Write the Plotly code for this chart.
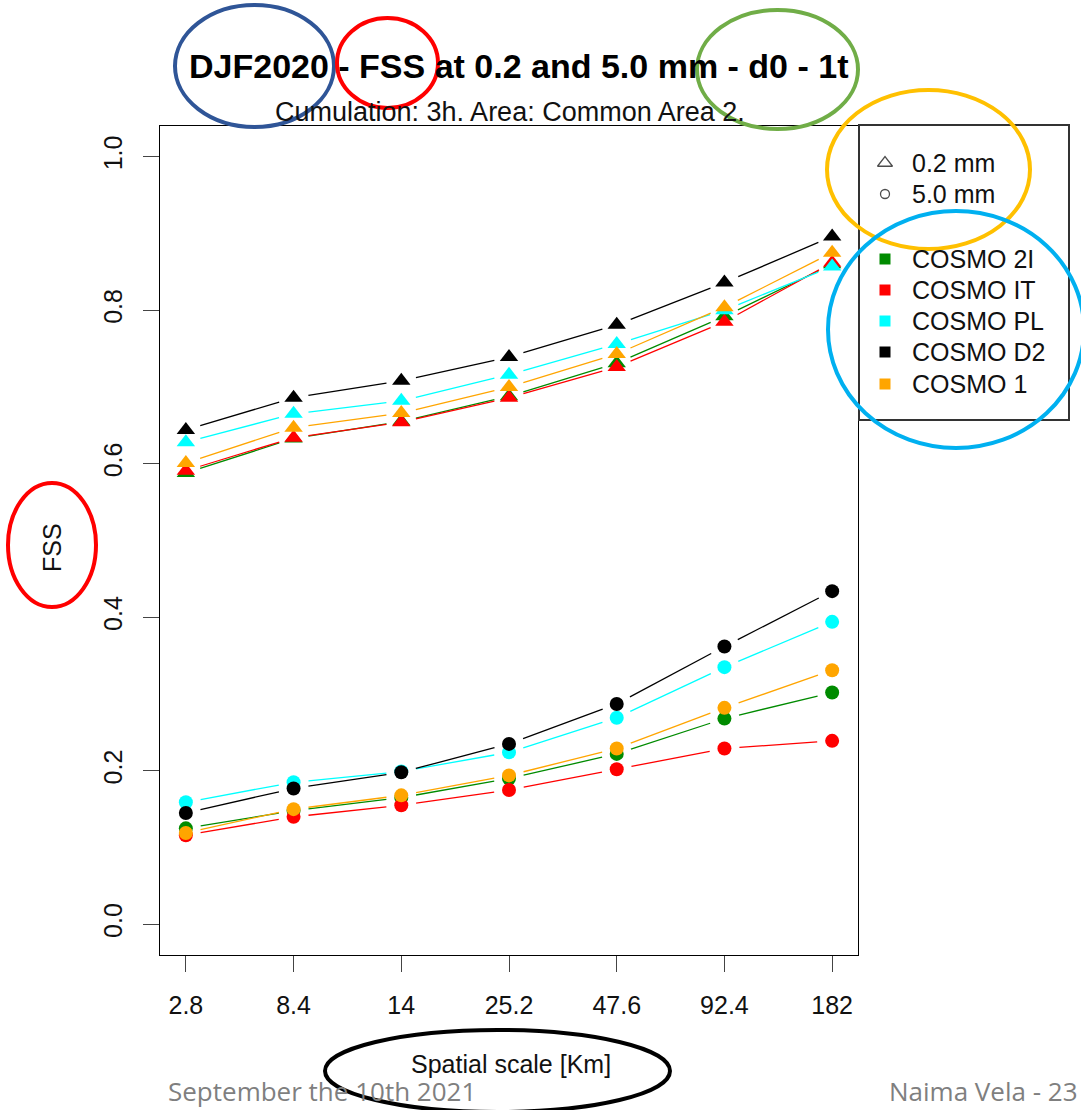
import plotly.graph_objects as go

# ---- data -------------------------------------------------------------
scales = ["2.8", "8.4", "14", "25.2", "47.6", "92.4", "182"]
models = ["COSMO 2I", "COSMO IT", "COSMO PL", "COSMO D2", "COSMO 1"]
colors = ["#008B00", "#FF0000", "#00FFFF", "#000000", "#FFA500"]

# FSS at the 0.2 mm threshold
fss_02_2i = [0.588, 0.633, 0.655, 0.688, 0.731, 0.792, 0.860]
fss_02_it = [0.591, 0.634, 0.654, 0.686, 0.726, 0.785, 0.862]
fss_02_pl = [0.628, 0.665, 0.682, 0.716, 0.756, 0.800, 0.857]
fss_02_d2 = [0.644, 0.686, 0.708, 0.739, 0.781, 0.836, 0.896]
fss_02_1 = [0.601, 0.647, 0.666, 0.700, 0.743, 0.804, 0.875]

# FSS at the 5.0 mm threshold
fss_50_2i = [0.125, 0.148, 0.165, 0.190, 0.222, 0.268, 0.302]
fss_50_it = [0.116, 0.140, 0.155, 0.175, 0.202, 0.229, 0.239]
fss_50_pl = [0.159, 0.185, 0.199, 0.224, 0.269, 0.335, 0.394]
fss_50_d2 = [0.145, 0.177, 0.198, 0.235, 0.287, 0.362, 0.434]
fss_50_1 = [0.119, 0.150, 0.168, 0.194, 0.229, 0.282, 0.331]

thr_labels = ["0.2 mm", "5.0 mm"]

series_02 = [fss_02_2i, fss_02_it, fss_02_pl, fss_02_d2, fss_02_1]
series_50 = [fss_50_2i, fss_50_it, fss_50_pl, fss_50_d2, fss_50_1]

# ---- geometry ---------------------------------------------------------
W, H = 1081, 1110
ML, MR, MT, MB = 160, 0, 126, 155
PAPER_W = W - ML - MR
PAPER_H = H - MT - MB
PLOT_RIGHT = 858            # right edge of the main panel (px)
XR = [0.76, 7.24]
YR = [-0.04, 1.04]
PX_X = (PLOT_RIGHT - ML) / (XR[1] - XR[0])
PX_Y = PAPER_H / (YR[1] - YR[0])

FONT = "Liberation Sans, Arial, Helvetica, sans-serif"
FOOT_FONT = "Open Sans, Noto Sans, sans-serif"


def px(x):
    return (x - ML) / PAPER_W


def py(y):
    return (H - MB - y) / PAPER_H


def gapped(xs, ys, gap=15.0):
    """Segments between consecutive points, leaving a gap round each point."""
    gx, gy = [], []
    for i in range(len(xs) - 1):
        ddx, ddy = xs[i + 1] - xs[i], ys[i + 1] - ys[i]
        length = ((ddx * PX_X) ** 2 + (ddy * PX_Y) ** 2) ** 0.5
        t = gap / length
        gx += [xs[i] + t * ddx, xs[i + 1] - t * ddx, None]
        gy += [ys[i] + t * ddy, ys[i + 1] - t * ddy, None]
    return gx, gy


xpos = list(range(1, len(scales) + 1))

fig = go.Figure()

for vals_set, symbol, msize in ((series_02, "triangle-up", 16), (series_50, "circle", 14)):
    for name, col, vals in zip(models, colors, vals_set):
        lx, ly = gapped(xpos, vals)
        fig.add_trace(go.Scatter(x=lx, y=ly, mode="lines",
                                 line=dict(color=col, width=1.3),
                                 hoverinfo="skip", showlegend=False))
        fig.add_trace(go.Scatter(x=xpos, y=vals, mode="markers",
                                 marker=dict(symbol=symbol, size=msize, color=col,
                                             line=dict(width=0)),
                                 name=name, showlegend=False,
                                 customdata=scales,
                                 hovertemplate="%{customdata} km: %{y:.3f}<extra>" + name + "</extra>"))

# ---- legend drawn in its own small panel ------------------------------
LEG_L, LEG_R, LEG_T, LEG_B = 860, 1068, 126, 419
leg_sym_x = 25
leg_txt_x = 50
thr_rows = [37, 68]
mod_rows = [133, 164, 195, 226, 258]

fig.add_trace(go.Scatter(x=[leg_sym_x] * 2, y=thr_rows, mode="markers",
                         marker=dict(symbol=["triangle-up-open", "circle-open"],
                                     size=[13, 9], color="#000000",
                                     line=dict(width=1.3, color="#000000")),
                         xaxis="x2", yaxis="y2", showlegend=False, hoverinfo="skip"))
fig.add_trace(go.Scatter(x=[leg_sym_x] * len(models), y=mod_rows, mode="markers",
                         marker=dict(symbol="square", size=11, color=colors),
                         xaxis="x2", yaxis="y2", showlegend=False, hoverinfo="skip"))

annotations = []
for lab, yy in zip(thr_labels + models, thr_rows + mod_rows):
    annotations.append(dict(x=leg_txt_x, y=yy, xref="x2", yref="y2", text=lab,
                            showarrow=False, xanchor="left", yanchor="middle",
                            font=dict(family=FONT, size=25, color="#111111")))

# ---- titles -----------------------------------------------------------
annotations += [
    dict(x=px(518), y=py(66), xref="paper", yref="paper",
         text="<b>DJF2020 - FSS at 0.2 and 5.0 mm - d0 - 1t</b>",
         showarrow=False, xanchor="center", yanchor="middle",
         font=dict(family=FONT, size=34, color="#000000")),
    dict(x=px(510), y=py(112), xref="paper", yref="paper",
         text="Cumulation: 3h. Area: Common Area 2.",
         showarrow=False, xanchor="center", yanchor="middle",
         font=dict(family=FONT, size=27, color="#111111")),
    dict(x=px(52), y=py(548), xref="paper", yref="paper", text="FSS",
         textangle=-90, showarrow=False, xanchor="center", yanchor="middle",
         font=dict(family=FONT, size=25, color="#111111")),
    dict(x=px(511), y=py(1064), xref="paper", yref="paper",
         text="Spatial scale [Km]", showarrow=False,
         xanchor="center", yanchor="middle",
         font=dict(family=FONT, size=25, color="#111111")),
    dict(x=px(166), y=py(1091), xref="paper", yref="paper",
         text="September the 10th 2021", showarrow=False,
         xanchor="left", yanchor="middle",
         font=dict(family=FOOT_FONT, size=26, color="#7F7F7F")),
    dict(x=px(1080), y=py(1091), xref="paper", yref="paper",
         text="Naima Vela - 23", showarrow=False,
         xanchor="right", yanchor="middle",
         font=dict(family=FOOT_FONT, size=26, color="#7F7F7F")),
]

# ---- highlight ellipses (x0, y0, x1, y1 in px, colour) -----------------
ellipses = [
    (175, 5, 334, 127, "#2F5597"),
    (337, 18, 438, 108, "#FF0000"),
    (697, 10, 858, 129, "#70AD47"),
    (827, 90, 1030, 249, "#FFC000"),
    (828, 211, 1084, 448, "#00B0F0"),
    (8, 483, 96, 607, "#FF0000"),
    (325, 1030, 670, 1112, "#000000"),
]
shapes = [dict(type="circle", xref="paper", yref="paper",
               x0=px(a), x1=px(c), y0=py(d), y1=py(b),
               line=dict(color=col, width=4), layer="above")
          for a, b, c, d, col in ellipses]

axis_common = dict(showgrid=False, zeroline=False, showline=True, mirror=True,
                   linecolor="#000000", linewidth=1.2, ticks="outside",
                   ticklen=16, tickwidth=1.2, tickcolor="#444444",
                   tickfont=dict(family=FONT, size=25, color="#111111"))

fig.update_layout(
    width=W, height=H,
    margin=dict(l=ML, r=MR, t=MT, b=MB, pad=0),
    paper_bgcolor="#FFFFFF", plot_bgcolor="#FFFFFF",
    showlegend=False,
    xaxis=dict(domain=[0, (PLOT_RIGHT - ML) / PAPER_W], range=XR,
               tickvals=xpos, ticktext=scales, ticklabelstandoff=12,
               **axis_common),
    yaxis=dict(domain=[0, 1], range=YR, tickvals=[0, 0.2, 0.4, 0.6, 0.8, 1.0],
               tickformat=".1f", tickangle=-90, ticklabelstandoff=11,
               **axis_common),
    xaxis2=dict(domain=[px(LEG_L), px(LEG_R)], range=[0, LEG_R - LEG_L],
                anchor="y2", showgrid=False, zeroline=False, showticklabels=False,
                ticks="", showline=True, mirror=True, linecolor="#333333", linewidth=1.5,
                fixedrange=True),
    yaxis2=dict(domain=[py(LEG_B), py(LEG_T)], range=[LEG_B - LEG_T, 0],
                anchor="x2", showgrid=False, zeroline=False, showticklabels=False,
                ticks="", showline=True, mirror=True, linecolor="#333333", linewidth=1.5,
                fixedrange=True),
    annotations=annotations,
    shapes=shapes,
)

fig.write_html("out.html")
